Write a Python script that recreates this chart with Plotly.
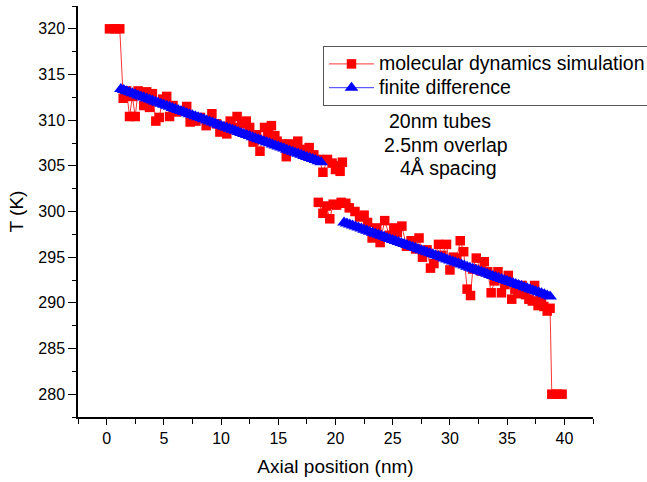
import plotly.graph_objects as go

# Molecular dynamics simulation, tube 1 (upper) and tube 2 (lower)
md_x_tube1 = [0.25, 0.75, 1.15, 1.45, 1.75, 2.0, 2.25, 2.5, 2.75, 3.0, 3.25, 3.5, 3.75, 4.0,
              4.3, 4.6, 4.9, 5.25, 5.5, 5.8, 6.1, 6.5, 7.0, 7.3, 7.8, 8.2, 8.7, 9.2, 9.6,
              9.9, 10.2, 10.5, 10.8, 11.1, 11.4, 11.8, 12.2, 12.5, 12.8, 13.1, 13.4, 13.8,
              14.1, 14.4, 14.7, 14.9, 15.3, 15.7, 16.0, 16.4, 16.7, 17.1, 17.4, 17.7, 18.1,
              18.6, 18.9, 19.3, 19.7, 20.0, 20.2, 20.4, 20.6]
md_t_tube1 = [320, 320, 320, 312.4, 313.2, 310.4, 312.6, 310.4, 313.2, 312.8, 311.6, 313.1,
              311.4, 312.9, 309.9, 310.3, 312.3, 312.6, 310.4, 311.6, 310.9, 311.0, 311.5,
              309.8, 309.9, 310.3, 309.4, 310.7, 309.6, 308.7, 309.3, 308.5, 309.9, 309.2,
              310.4, 309.6, 309.9, 309.2, 307.6, 308.4, 306.6, 309.2, 308.5, 309.4, 308.3,
              307.7, 307.4, 306.0, 307.4, 307.2, 307.7, 306.8, 306.5, 307.0, 306.2, 305.7,
              304.3, 305.7, 305.3, 304.6, 305.0, 304.4, 305.4]
md_x_tube2 = [18.5, 18.9, 19.2, 19.5, 19.8, 20.1, 20.5, 20.9, 21.2, 21.7, 22.1, 22.5, 22.8,
              23.2, 23.6, 23.9, 24.3, 24.7, 25.1, 25.4, 25.8, 26.2, 26.6, 27.0, 27.3, 27.6,
              28.0, 28.3, 28.6, 29.0, 29.3, 29.7, 30.0, 30.3, 30.6, 30.9, 31.2, 31.5, 31.8,
              32.0, 32.3, 32.7, 33.0, 33.3, 33.6, 33.9, 34.2, 34.5, 34.8, 35.1, 35.4, 35.7,
              36.0, 36.3, 36.6, 36.9, 37.2, 37.4, 37.7, 38.0, 38.2, 38.5, 38.75, 38.9,
              39.35, 39.8]
md_t_tube2 = [301.0, 299.8, 300.6, 299.2, 300.8, 300.7, 301.0, 300.9, 300.4, 300.0, 299.4,
              299.6, 298.8, 297.1, 298.2, 296.6, 299.0, 297.4, 298.2, 297.7, 298.4, 296.2,
              296.8, 295.9, 297.1, 295.0, 295.8, 293.8, 294.3, 296.4, 295.2, 296.4, 293.6,
              295.0, 294.9, 296.8, 295.6, 291.5, 290.8, 293.7, 294.9, 293.5, 294.5, 293.4,
              291.1, 292.4, 293.4, 291.1, 292.0, 293.0, 290.4, 291.5, 291.0, 291.9, 290.9,
              290.4, 290.2, 291.9, 289.7, 290.3, 289.6, 289.1, 289.4, 280, 280, 280]

# Finite difference solution
fd_x_tube1 = [1.25, 1.5, 1.75, 2.0, 2.25, 2.5, 2.75, 3.0, 3.25, 3.5, 3.75, 4.0, 4.25, 4.5,
              4.75, 5.0, 5.25, 5.5, 5.75, 6.0, 6.25, 6.5, 6.75, 7.0, 7.25, 7.5, 7.75, 8.0,
              8.25, 8.5, 8.75, 9.0, 9.25, 9.5, 9.75, 10.0, 10.25, 10.5, 10.75, 11.0, 11.25,
              11.5, 11.75, 12.0, 12.25, 12.5, 12.75, 13.0, 13.25, 13.5, 13.75, 14.0, 14.25,
              14.5, 14.75, 15.0, 15.25, 15.5, 15.75, 16.0, 16.25, 16.5, 16.75, 17.0, 17.25,
              17.5, 17.75, 18.0, 18.25, 18.5, 18.75]
fd_t_tube1 = [313.40, 313.29, 313.17, 313.06, 312.94, 312.83, 312.71, 312.60, 312.49, 312.37,
              312.26, 312.14, 312.03, 311.91, 311.80, 311.69, 311.57, 311.46, 311.34, 311.23,
              311.11, 311.00, 310.89, 310.77, 310.66, 310.54, 310.43, 310.31, 310.20, 310.09,
              309.97, 309.86, 309.74, 309.63, 309.51, 309.40, 309.29, 309.17, 309.06, 308.94,
              308.83, 308.71, 308.60, 308.49, 308.37, 308.26, 308.14, 308.03, 307.91, 307.80,
              307.69, 307.57, 307.46, 307.34, 307.23, 307.11, 307.00, 306.89, 306.77, 306.66,
              306.54, 306.43, 306.31, 306.20, 306.09, 305.97, 305.86, 305.74, 305.63, 305.51,
              305.40]
fd_x_tube2 = [20.75, 21.0, 21.25, 21.5, 21.75, 22.0, 22.25, 22.5, 22.75, 23.0, 23.25, 23.5,
              23.75, 24.0, 24.25, 24.5, 24.75, 25.0, 25.25, 25.5, 25.75, 26.0, 26.25, 26.5,
              26.75, 27.0, 27.25, 27.5, 27.75, 28.0, 28.25, 28.5, 28.75, 29.0, 29.25, 29.5,
              29.75, 30.0, 30.25, 30.5, 30.75, 31.0, 31.25, 31.5, 31.75, 32.0, 32.25, 32.5,
              32.75, 33.0, 33.25, 33.5, 33.75, 34.0, 34.25, 34.5, 34.75, 35.0, 35.25, 35.5,
              35.75, 36.0, 36.25, 36.5, 36.75, 37.0, 37.25, 37.5, 37.75, 38.0, 38.25, 38.5,
              38.75]
fd_t_tube2 = [298.80, 298.69, 298.58, 298.46, 298.35, 298.24, 298.13, 298.01, 297.90, 297.79,
              297.68, 297.56, 297.45, 297.34, 297.23, 297.11, 297.00, 296.89, 296.78, 296.66,
              296.55, 296.44, 296.33, 296.21, 296.10, 295.99, 295.88, 295.76, 295.65, 295.54,
              295.43, 295.31, 295.20, 295.09, 294.98, 294.86, 294.75, 294.64, 294.53, 294.41,
              294.30, 294.19, 294.08, 293.96, 293.85, 293.74, 293.63, 293.51, 293.40, 293.29,
              293.18, 293.06, 292.95, 292.84, 292.73, 292.61, 292.50, 292.39, 292.28, 292.16,
              292.05, 291.94, 291.83, 291.71, 291.60, 291.49, 291.38, 291.26, 291.15, 291.04,
              290.93, 290.81, 290.70]

series_names = ["molecular dynamics simulation", "finite difference"]
note_lines = ["20nm tubes", "2.5nm overlap", "4Å spacing"]
x_title = "Axial position (nm)"
y_title = "T (K)"

FONT = "Liberation Sans, Arial, sans-serif"


def big(txt):
    return '<span style="font-size:19.5px">' + txt + '</span>'


fig = go.Figure()
fig.add_trace(go.Scatter(
    x=md_x_tube1 + [None] + md_x_tube2,
    y=md_t_tube1 + [None] + md_t_tube2,
    mode="lines+markers", name=big(series_names[0]),
    line=dict(color="#ff0000", width=0.8),
    marker=dict(symbol="square", size=9.5, color="#ff0000", line=dict(width=0)),
    connectgaps=False,
))
fig.add_trace(go.Scatter(
    x=fd_x_tube1 + [None] + fd_x_tube2,
    y=fd_t_tube1 + [None] + fd_t_tube2,
    mode="lines+markers", name=big(series_names[1]),
    line=dict(color="#0000ff", width=0.8),
    marker=dict(symbol="triangle-up", size=12, color="#0000ff", line=dict(width=0)),
    connectgaps=False,
))

L, R, T, B = 78, 593, 6, 417
note_pos = [(440, 121), (446, 145), (448, 168)]
for txt, (px, py) in zip(note_lines, note_pos):
    fig.add_annotation(
        text=txt, xref="paper", yref="paper",
        x=(px - L) / (R - L), y=(B - py) / (B - T),
        xanchor="center", yanchor="middle", showarrow=False,
        font=dict(family=FONT, size=19.5, color="black"),
    )

axis_common = dict(
    showline=True, linecolor="black", linewidth=1.5, mirror=False,
    ticks="outside", tickwidth=1.3, tickcolor="black",
    showgrid=False, zeroline=False,
    tickfont=dict(family=FONT, size=16, color="black"),
)

fig.update_layout(
    width=647, height=482,
    margin=dict(l=L, r=647 - R, t=T, b=482 - B, autoexpand=False),
    paper_bgcolor="white", plot_bgcolor="white",
    font=dict(family=FONT, color="black"),
    xaxis=dict(range=[-2.5, 42.5], tick0=0, dtick=5, ticklen=6,
               minor=dict(dtick=2.5, ticks="outside", ticklen=5, tickwidth=1.3,
                          tickcolor="black", showgrid=False),
               title=dict(text=x_title, font=dict(family=FONT, size=19), standoff=14),
               **axis_common),
    yaxis=dict(range=[277.5, 322.5], tick0=280, dtick=5, ticklen=8,
               minor=dict(dtick=2.5, ticks="outside", ticklen=4, tickwidth=1.3,
                          tickcolor="black", showgrid=False),
               title=dict(text=y_title, font=dict(family=FONT, size=19), standoff=10),
               **axis_common),
    legend=dict(
        x=(323 - L) / (R - L), y=(B - 46) / (B - T), xanchor="left", yanchor="top",
        bgcolor="white", bordercolor="#555", borderwidth=1,
        font=dict(family=FONT, size=16, color="black"),
        itemwidth=45, tracegroupgap=0,
    ),
    showlegend=True,
)

fig.write_html("out.html", config={"displayModeBar": False},
               post_script="document.body.style.margin='0';")
